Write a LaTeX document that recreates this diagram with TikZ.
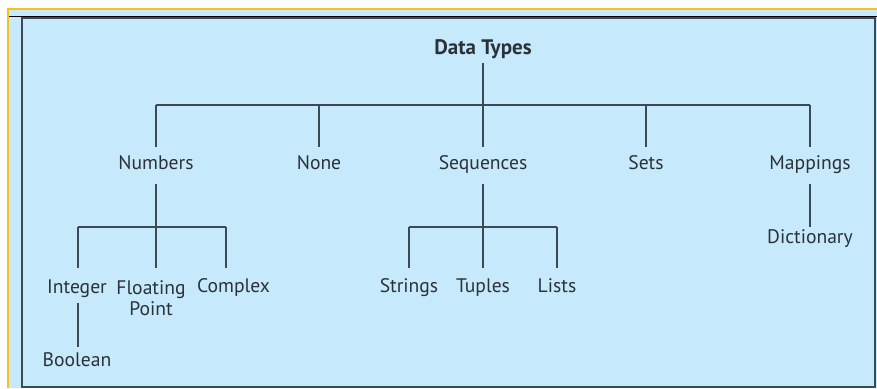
\documentclass[tikz,border=0pt]{standalone}
\usepackage{fontspec}
\setmainfont{PT Sans}
\usetikzlibrary{calc}
\definecolor{panel}{HTML}{C7E9FC}
\definecolor{frameline}{HTML}{3C4A55}
\definecolor{gold}{HTML}{F5C21B}
\definecolor{thin}{HTML}{A4BDCC}
\definecolor{ink}{HTML}{2A3238}
\tikzset{
  lblbase/.style={inner sep=0pt, font=\fontsize{19.6}{21}\selectfont, text=ink, align=center},
  lbl/.style={lblbase, text height=14pt, text depth=4pt},
  conn/.style={draw=frameline, line width=1.3pt}
}
\begin{document}
\begin{tikzpicture}[x=1pt,y=1pt]
\useasboundingbox (0,0) rectangle (877,-388);
% background
\fill[panel] (9,-10) rectangle (877,-388);
\draw[gold, line width=2pt] (8,-388) -- (8,-9) -- (877,-9);
\draw[thin, line width=0.6pt] (9,-16.5) -- (877,-16.5);
\draw[frameline, line width=1.5pt] (22,-18) rectangle (875,-387);
% nodes (center = baseline - 5)
\node[lbl, font=\fontsize{21}{21}\selectfont\bfseries] (dt) at (483,-49.3) {Data Types};
\node[lbl] (num) at (156,-164.5) {Numbers};
\node[lbl] (none) at (319,-164.5) {None};
\node[lbl] (seq) at (483,-164.5) {Sequences};
\node[lbl] (sets) at (646,-164.5) {Sets};
\node[lbl] (map) at (810,-164.5) {Mappings};
\node[lbl] (int) at (77,-288) {Integer};
\node[lblbase] (fp) at (151,-298) {Floating\\Point};
\node[lbl] (cx) at (233.5,-287.5) {Complex};
\node[lbl] (bool) at (77,-361.5) {Boolean};
\node[lbl] (str) at (409,-287.5) {Strings};
\node[lbl] (tup) at (483,-287.5) {Tuples};
\node[lbl] (lst) at (557,-287.5) {Lists};
\node[lbl] (dict) at (810,-238.3) {Dictionary};
% buses
\coordinate (busA) at (156,-105);
\coordinate (busB) at (810,-105);
\coordinate (busC) at (78,-227);
\coordinate (busD) at (226,-227);
\coordinate (busE) at (409,-227);
\coordinate (busF) at (557,-227);
\coordinate (fpTop) at (156,-268);
\coordinate (cxTop) at (226,-268);
\draw[conn] (busA) -- (busB);
\draw[conn] ([yshift=-13.7pt]dt.center) -- (dt.center |- busA);
\foreach \n in {num,none,seq,sets,map}
  \draw[conn] (\n.center |- busA) -- ([yshift=17.5pt]\n.center);
% numbers subtree
\draw[conn] (busC) -- (busD);
\draw[conn] ([yshift=-19.5pt]num.center) -- (num.center |- busC);
\draw[conn] (busC) -- (busC |- fpTop);
\draw[conn] (num.center |- busC) -- (fpTop);
\draw[conn] (busD) -- (cxTop);
\draw[conn] ([xshift=1pt,yshift=-15pt]int.center) -- ([xshift=1pt,yshift=14.5pt]bool.center);
% sequences subtree
\draw[conn] (busE) -- (busF);
\draw[conn] ([yshift=-19.5pt]seq.center) -- (seq.center |- busE);
\draw[conn] (busE) -- ([yshift=19.5pt]str.center);
\draw[conn] (seq.center |- busE) -- ([yshift=19.5pt]tup.center);
\draw[conn] (busF) -- ([yshift=19.5pt]lst.center);
% mappings
\draw[conn] ([yshift=-19.5pt]map.center) -- ([yshift=11.3pt]dict.center);
\end{tikzpicture}
\end{document}
